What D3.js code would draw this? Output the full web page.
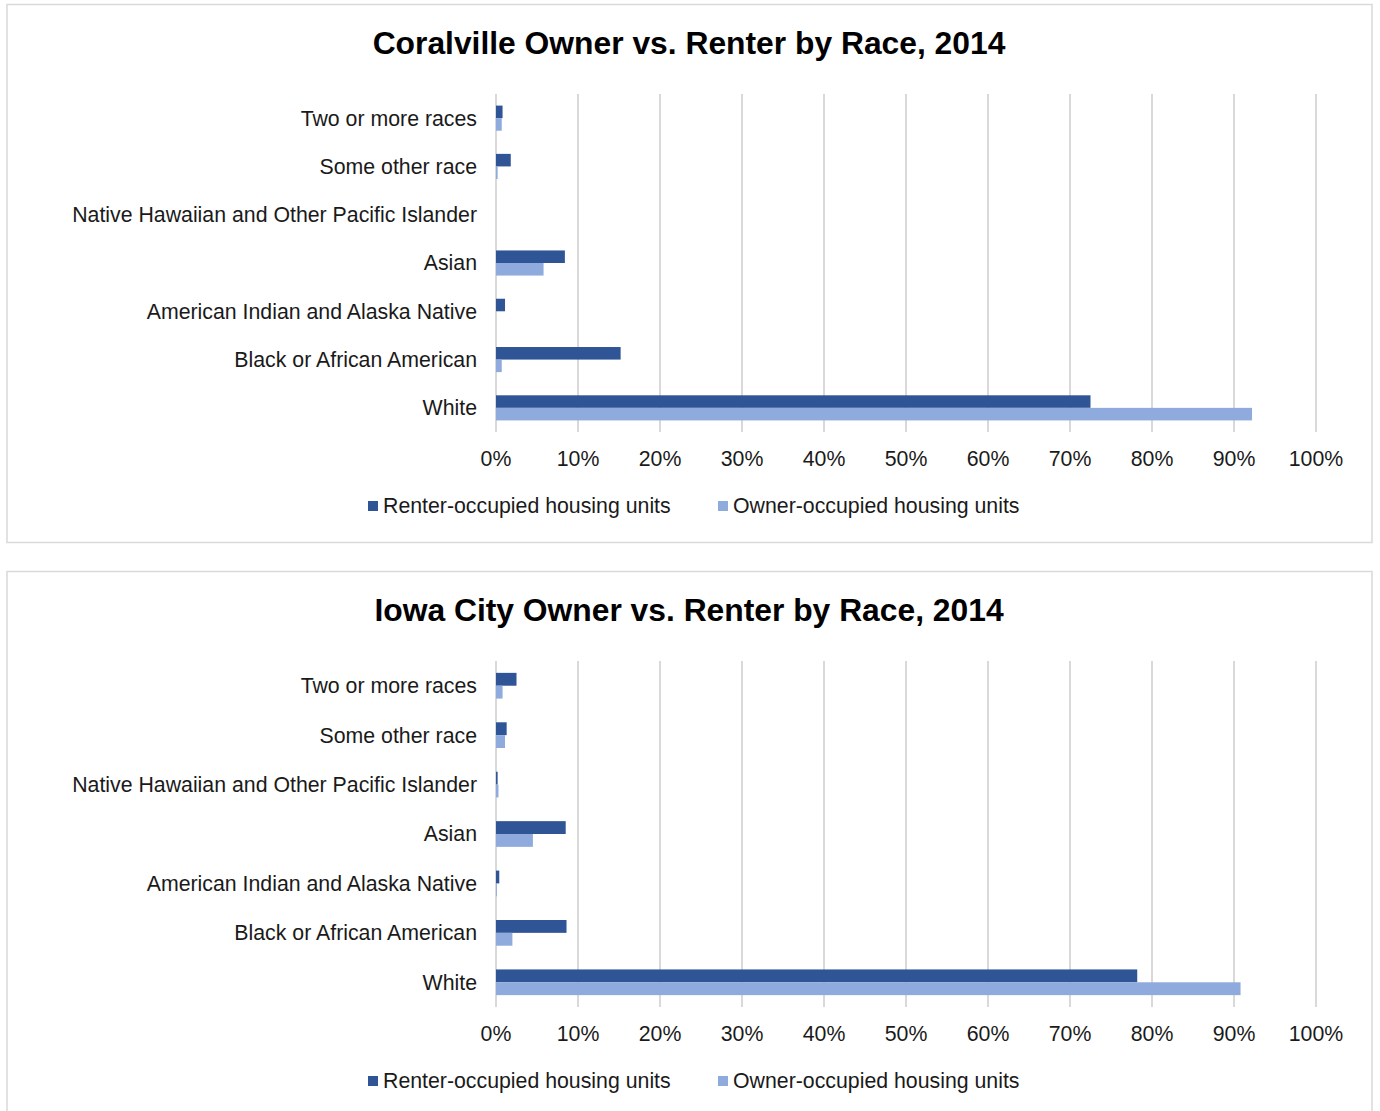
<!DOCTYPE html>
<html>
<head>
<meta charset="utf-8">
<script src="https://cdn.jsdelivr.net/npm/d3@7"></script>
<style>
  html, body { margin: 0; padding: 0; background: #fff; }
  svg { display: block; font-family: "Liberation Sans", Arial, sans-serif; }
</style>
</head>
<body>
<svg id="chart" width="1380" height="1111"></svg>
<script>
// Race categories, listed top to bottom as they appear on the axis
const categories = [
  "Two or more races",
  "Some other race",
  "Native Hawaiian and Other Pacific Islander",
  "Asian",
  "American Indian and Alaska Native",
  "Black or African American",
  "White"
];

const seriesNames = ["Renter-occupied housing units", "Owner-occupied housing units"];

// Share of housing units (%) by race, Coralville 2014
const coralvilleRenter = [0.8, 1.8, 0.0, 8.4, 1.1, 15.2, 72.5];
const coralvilleOwner  = [0.7, 0.2, 0.0, 5.8, 0.0, 0.7, 92.2];

// Share of housing units (%) by race, Iowa City 2014
const iowaCityRenter = [2.5, 1.3, 0.2, 8.5, 0.4, 8.6, 78.2];
const iowaCityOwner  = [0.8, 1.1, 0.3, 4.5, 0.1, 2.0, 90.8];

const xTicks = [0, 10, 20, 30, 40, 50, 60, 70, 80, 90, 100];

const colors = { renter: "#2F5597", owner: "#8FAADC" };
const textColor = "#1a1a1a";
const fontSize = 21.3;

const svg = d3.select("#chart");

function drawPanel(opts) {
  const g = svg.append("g").attr("transform", `translate(0,${opts.top})`);

  // panel frame
  g.append("rect")
    .attr("x", 7).attr("y", 0.5)
    .attr("width", 1365).attr("height", opts.frameHeight)
    .attr("fill", "#fff")
    .attr("stroke", "#d9d9d9")
    .attr("stroke-width", 1.5);

  g.append("text")
    .attr("x", 689).attr("y", 49.5)
    .attr("text-anchor", "middle")
    .attr("font-size", 31.8)
    .attr("font-weight", "bold")
    .attr("fill", "#000")
    .text(opts.title);

  const x = d3.scaleLinear().domain([0, 100]).range([496, 1316]);
  const y = d3.scaleBand()
    .domain(categories)
    .range([opts.plotTop, opts.plotBottom])
    .paddingInner(0.48)
    .paddingOuter(0.24);
  const sub = d3.scaleBand()
    .domain(["renter", "owner"])
    .range([0, y.bandwidth()]);

  // vertical gridlines
  g.append("g")
    .selectAll("line")
    .data(xTicks)
    .join("line")
    .attr("x1", d => x(d)).attr("x2", d => x(d))
    .attr("y1", opts.plotTop).attr("y2", opts.plotBottom)
    .attr("stroke", "#d9d9d9")
    .attr("stroke-width", 2);

  // tick labels
  g.append("g")
    .selectAll("text")
    .data(xTicks)
    .join("text")
    .attr("x", d => x(d))
    .attr("y", opts.plotBottom + 34)
    .attr("text-anchor", "middle")
    .attr("font-size", fontSize)
    .attr("fill", textColor)
    .text(d => d + "%");

  // category labels
  g.append("g")
    .selectAll("text")
    .data(categories)
    .join("text")
    .attr("x", 477)
    .attr("y", d => y(d) + y.bandwidth() / 2)
    .attr("dy", "0.35em")
    .attr("text-anchor", "end")
    .attr("font-size", fontSize)
    .attr("fill", textColor)
    .text(d => d);

  const rows = categories.map((c, i) => ({
    cat: c,
    renter: opts.renter[i],
    owner: opts.owner[i]
  }));

  const groups = g.append("g")
    .selectAll("g")
    .data(rows)
    .join("g")
    .attr("transform", d => `translate(0,${y(d.cat)})`);

  groups.selectAll("rect")
    .data(d => ["renter", "owner"].map(k => ({ key: k, value: d[k] })))
    .join("rect")
    .attr("x", x(0))
    .attr("y", d => sub(d.key))
    .attr("width", d => x(d.value) - x(0))
    .attr("height", sub.bandwidth())
    .attr("fill", d => colors[d.key]);

  // legend
  const legendY = opts.plotBottom + 74;
  const legendItems = [
    { key: "renter", label: seriesNames[0], x: 368 },
    { key: "owner", label: seriesNames[1], x: 718 }
  ];
  const lg = g.append("g")
    .selectAll("g")
    .data(legendItems)
    .join("g")
    .attr("transform", d => `translate(${d.x},${legendY})`);
  lg.append("rect")
    .attr("x", 0).attr("y", -5)
    .attr("width", 10).attr("height", 10)
    .attr("fill", d => colors[d.key]);
  lg.append("text")
    .attr("x", 15).attr("y", 0)
    .attr("dy", "0.35em")
    .attr("font-size", fontSize)
    .attr("fill", textColor)
    .text(d => d.label);
}

drawPanel({
  top: 4,
  frameHeight: 538,
  title: "Coralville Owner vs. Renter by Race, 2014",
  plotTop: 90,
  plotBottom: 428,
  renter: coralvilleRenter,
  owner: coralvilleOwner
});

drawPanel({
  top: 571,
  frameHeight: 560,
  title: "Iowa City Owner vs. Renter by Race, 2014",
  plotTop: 90,
  plotBottom: 436,
  renter: iowaCityRenter,
  owner: iowaCityOwner
});
</script>
</body>
</html>
